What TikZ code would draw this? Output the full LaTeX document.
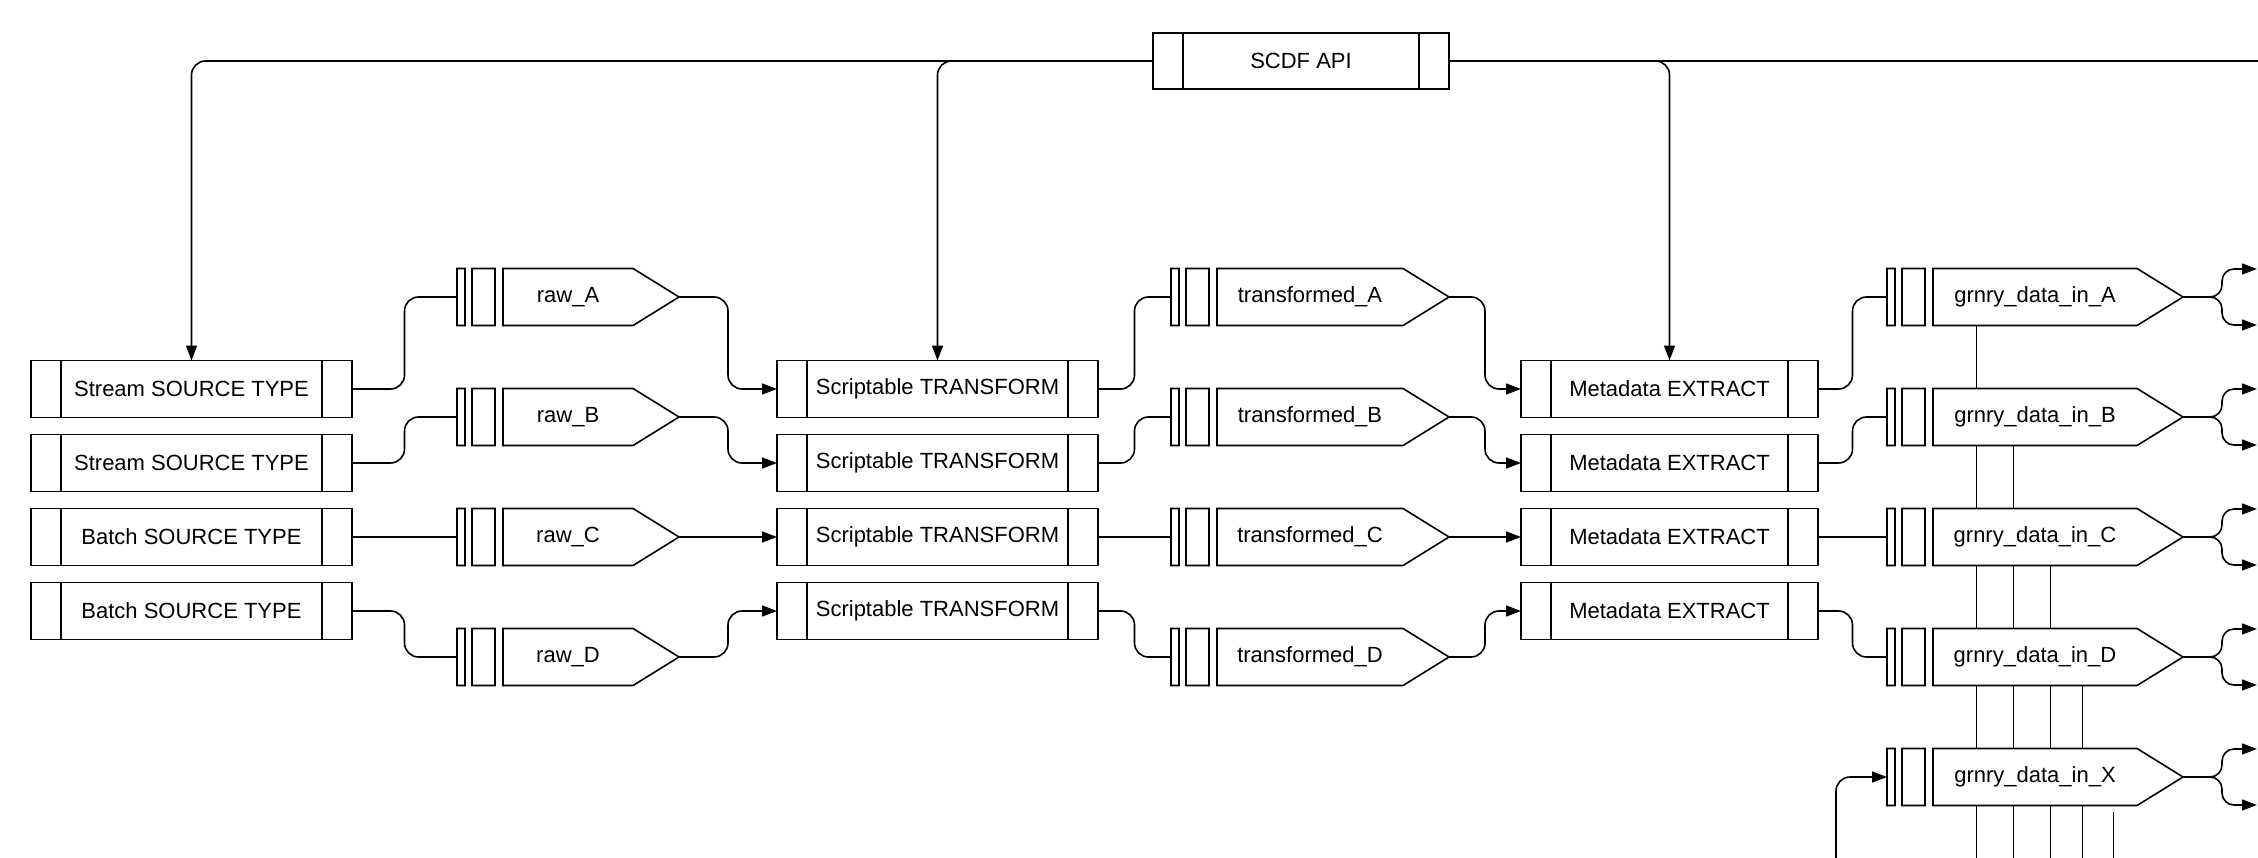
\documentclass[tikz,border=0pt]{standalone}
\usepackage{fontspec}
\setmainfont{Liberation Sans}
\usetikzlibrary{arrows.meta}
\usetikzlibrary{backgrounds}

\tikzset{
  proc/.style={draw, minimum height=57pt, inner sep=0pt, outer sep=0pt,
    path picture={\draw ([xshift=30pt]path picture bounding box.north west) -- ([xshift=30pt]path picture bounding box.south west)
      ([xshift=-30pt]path picture bounding box.north east) -- ([xshift=-30pt]path picture bounding box.south east);}},
  queue/.style={minimum height=57pt, inner sep=0pt, outer sep=0pt,
    append after command={\pgfextra{\draw[fill=white]
      (\tikzlastnode.north west) rectangle ([xshift=8pt]\tikzlastnode.south west)
      ([xshift=15pt]\tikzlastnode.north west) rectangle ([xshift=38pt]\tikzlastnode.south west)
      ([xshift=46pt]\tikzlastnode.north west) -- ([xshift=-46pt]\tikzlastnode.north east) -- (\tikzlastnode.east)
      -- ([xshift=-46pt]\tikzlastnode.south east) -- ([xshift=46pt]\tikzlastnode.south west) -- cycle;}}},
  link/.style={rounded corners=14pt},
}

\begin{document}
\begin{tikzpicture}
        [x=1pt, y=-1pt, line width=1.6pt, font=\fontsize{22}{26}\selectfont,
         >={Triangle[length=15pt,width=11pt]}]
        \useasboundingbox (0,0) rectangle (2258,858);

        \node [proc, minimum width=296pt, minimum height=56pt] (api) at (1301,61) {SCDF API};
        \coordinate (apiend) at (2270,61);
        \coordinate (xin) at (1836,870);

        \node [proc, minimum width=321pt] (srca) at (191.5,389) {Stream SOURCE TYPE};
        \node [proc, minimum width=321pt] (srcb) at (191.5,463) {Stream SOURCE TYPE};
        \node [proc, minimum width=321pt] (srcc) at (191.5,537) {Batch SOURCE TYPE};
        \node [proc, minimum width=321pt] (srcd) at (191.5,611) {Batch SOURCE TYPE};

        \node [queue, minimum width=222pt] (rawa) at (568,297) {raw\_A};
        \node [queue, minimum width=222pt] (rawb) at (568,417) {raw\_B};
        \node [queue, minimum width=222pt] (rawc) at (568,537) {raw\_C};
        \node [queue, minimum width=222pt] (rawd) at (568,657) {raw\_D};

        \node [proc, minimum width=321pt] (scra) at (937.5,389) {Scriptable TRANSFORM};
        \node [proc, minimum width=321pt] (scrb) at (937.5,463) {Scriptable TRANSFORM};
        \node [proc, minimum width=321pt] (scrc) at (937.5,537) {Scriptable TRANSFORM};
        \node [proc, minimum width=321pt] (scrd) at (937.5,611) {Scriptable TRANSFORM};

        \node [queue, minimum width=278pt] (tfa) at (1310,297) {transformed\_A};
        \node [queue, minimum width=278pt] (tfb) at (1310,417) {transformed\_B};
        \node [queue, minimum width=278pt] (tfc) at (1310,537) {transformed\_C};
        \node [queue, minimum width=278pt] (tfd) at (1310,657) {transformed\_D};

        \node [proc, minimum width=297pt] (mda) at (1669.5,389) {Metadata EXTRACT};
        \node [proc, minimum width=297pt] (mdb) at (1669.5,463) {Metadata EXTRACT};
        \node [proc, minimum width=297pt] (mdc) at (1669.5,537) {Metadata EXTRACT};
        \node [proc, minimum width=297pt] (mdd) at (1669.5,611) {Metadata EXTRACT};

        \node [queue, minimum width=296pt] (gra) at (2035,297) {grnry\_data\_in\_A};
        \node [queue, minimum width=296pt] (grb) at (2035,417) {grnry\_data\_in\_B};
        \node [queue, minimum width=296pt] (grc) at (2035,537) {grnry\_data\_in\_C};
        \node [queue, minimum width=296pt] (grd) at (2035,657) {grnry\_data\_in\_D};
        \node [queue, minimum width=296pt] (grx) at (2035,777) {grnry\_data\_in\_X};

        \draw [link, ->] (api.west) -| (srca.north);
        \draw [link, ->] (api.west) -| (scra.north);
        \draw [link, ->] (api.east) -| (mda.north);
        \draw (api.east) -- (apiend);

        \draw [link] (srca.east) -- ++(52.5,0) |- (rawa.west);
        \draw [link] (srcb.east) -- ++(52.5,0) |- (rawb.west);
        \draw (srcc.east) -- (rawc.west);
        \draw [link] (srcd.east) -- ++(52.5,0) |- (rawd.west);

        \draw [link, ->] (rawa.east) -- ++(49,0) |- (scra.west);
        \draw [link, ->] (rawb.east) -- ++(49,0) |- (scrb.west);
        \draw [->] (rawc.east) -- (scrc.west);
        \draw [link, ->] (rawd.east) -- ++(49,0) |- (scrd.west);

        \draw [link] (scra.east) -- ++(36.5,0) |- (tfa.west);
        \draw [link] (scrb.east) -- ++(36.5,0) |- (tfb.west);
        \draw (scrc.east) -- (tfc.west);
        \draw [link] (scrd.east) -- ++(36.5,0) |- (tfd.west);

        \draw [link, ->] (tfa.east) -- ++(36,0) |- (mda.west);
        \draw [link, ->] (tfb.east) -- ++(36,0) |- (mdb.west);
        \draw [->] (tfc.east) -- (mdc.west);
        \draw [link, ->] (tfd.east) -- ++(36,0) |- (mdd.west);

        \draw [link] (mda.east) -- ++(34.5,0) |- (gra.west);
        \draw [link] (mdb.east) -- ++(34.5,0) |- (grb.west);
        \draw (mdc.east) -- (grc.west);
        \draw [link] (mdd.east) -- ++(34.5,0) |- (grd.west);
        \draw [link, ->] (xin) |- (grx.west);

        \draw [link, rounded corners=12pt, ->] (gra.east) -| ++(39,-28) -- ++(35,0);
        \draw [link, rounded corners=12pt, ->] (gra.east) -| ++(39,28) -- ++(35,0);
        \draw [link, rounded corners=12pt, ->] (grb.east) -| ++(39,-28) -- ++(35,0);
        \draw [link, rounded corners=12pt, ->] (grb.east) -| ++(39,28) -- ++(35,0);
        \draw [link, rounded corners=12pt, ->] (grc.east) -| ++(39,-28) -- ++(35,0);
        \draw [link, rounded corners=12pt, ->] (grc.east) -| ++(39,28) -- ++(35,0);
        \draw [link, rounded corners=12pt, ->] (grd.east) -| ++(39,-28) -- ++(35,0);
        \draw [link, rounded corners=12pt, ->] (grd.east) -| ++(39,28) -- ++(35,0);
        \draw [link, rounded corners=12pt, ->] (grx.east) -| ++(39,-28) -- ++(35,0);
        \draw [link, rounded corners=12pt, ->] (grx.east) -| ++(39,28) -- ++(35,0);

        % lines running down behind the granary queues
        \begin{scope}[on background layer]
          \draw ([xshift=-59pt]gra.south) -- ++(0,560);
          \draw ([xshift=-22pt]grb.south) -- ++(0,460);
          \draw ([xshift=15pt]grc.south) -- ++(0,330);
          \draw ([xshift=47pt]grd.south) -- ++(0,210);
          \draw ([xshift=78pt]grx.south) ++(0,6) -- ++(0,90);
        \end{scope}
    \end{tikzpicture}
\end{document}
